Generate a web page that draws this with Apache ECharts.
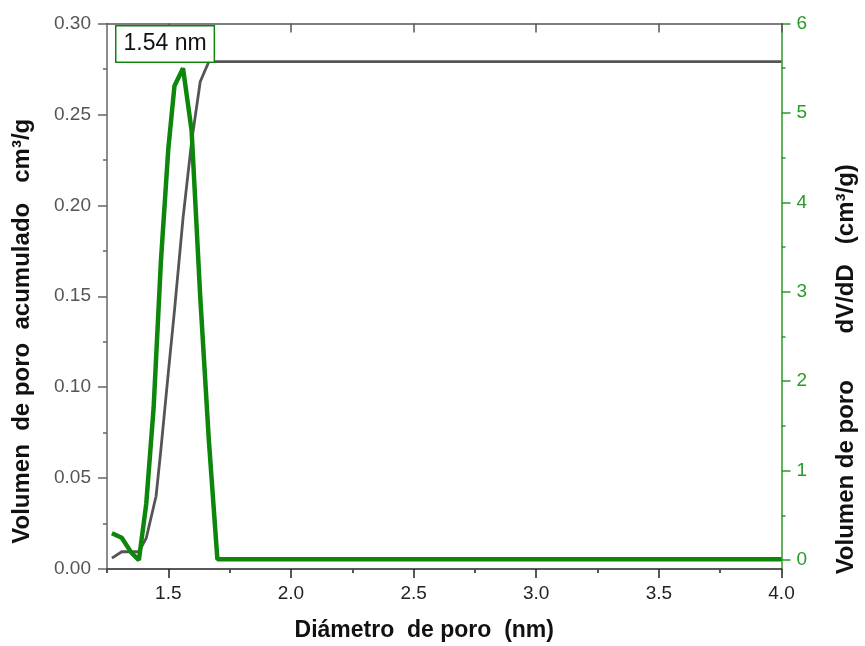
<!DOCTYPE html>
<html><head><meta charset="utf-8">
<script src="https://cdn.jsdelivr.net/npm/echarts@6/dist/echarts.min.js"></script>
<style>html,body{margin:0;padding:0;background:#fff}#c{width:865px;height:646px}</style>
</head><body><div id="c"></div>
<script>
// Cumulative pore volume (left axis, cm3/g)
const greyX = [1.27, 1.31, 1.35, 1.38, 1.41, 1.45, 1.47, 1.50, 1.525, 1.56, 1.595, 1.63, 1.665, 1.70, 4.0];
const greyY = [0.006, 0.0095, 0.0095, 0.0095, 0.017, 0.040, 0.066, 0.108, 0.142, 0.193, 0.235, 0.268, 0.279, 0.279, 0.279];
// dV/dD (right axis)
const greenX = [1.27, 1.31, 1.35, 1.38, 1.41, 1.44, 1.47, 1.50, 1.525, 1.56, 1.595, 1.63, 1.665, 1.70, 4.0];
const greenY = [0.30, 0.25, 0.08, 0.0, 0.63, 1.7, 3.35, 4.6, 5.3, 5.5, 4.8, 2.95, 1.35, 0.01, 0.01];
// ticks
const xMajor = [1.5, 2.0, 2.5, 3.0, 3.5, 4.0];
const xMinor = [1.25, 1.75, 2.25, 2.75, 3.25, 3.75];
const yLMajor = [0, 0.05, 0.10, 0.15, 0.20, 0.25, 0.30];
const yLMinor = [0.025, 0.075, 0.125, 0.175, 0.225, 0.275];
const yRMajor = [0, 1, 2, 3, 4, 5, 6];
const yRMinor = [0.5, 1.5, 2.5, 3.5, 4.5, 5.5];
const peakLabel = '1.54 nm';

const FONT = '"Liberation Sans", Arial, sans-serif';
const GREEN = '#0c870c';
const GREEN_AX = '#2a9a2a';

function tickAxis(base, vals, len, inside, color) {
  return Object.assign({
    axisTick: {show: true, customValues: vals, length: len, inside: !!inside, lineStyle: {width: 1.5, color: color}},
    axisLabel: {show: false}, splitLine: {show: false}
  }, base);
}

const chart = echarts.init(document.getElementById('c'), null, {renderer: 'canvas'});
chart.setOption({
  animation: false,
  backgroundColor: '#fff',
  grid: {left: 107, right: 83.5, top: 23.5, bottom: 77, containLabel: false, outerBoundsMode: 'none'},
  xAxis: [
    {
      type: 'value', position: 'bottom', min: 1.25, max: 4.0,
      axisLine: {show: true, onZero: false, lineStyle: {color: '#222', width: 1.5}},
      axisTick: {show: true, customValues: xMajor, length: 9, lineStyle: {color: '#222', width: 1.5}},
      axisLabel: {show: true, customValues: xMajor, formatter: v => v.toFixed(1), color: '#222', fontSize: 19, fontFamily: FONT, margin: 15},
      splitLine: {show: false},
      name: 'Diámetro  de poro  (nm)', nameLocation: 'middle', nameGap: 50,
      nameTextStyle: {fontSize: 23, fontWeight: 'bold', color: '#111', fontFamily: FONT, padding: [0, 40, 0, 0]}
    },
    tickAxis({type: 'value', position: 'bottom', min: 1.25, max: 4.0, axisLine: {show: false}}, xMinor, 4, false, '#222'),
    tickAxis({type: 'value', position: 'top', min: 1.25, max: 4.0,
      axisLine: {show: true, onZero: false, lineStyle: {color: '#555', width: 1.5}}}, xMajor, 9, true, '#555'),
    tickAxis({type: 'value', position: 'top', min: 1.25, max: 4.0, axisLine: {show: false}}, xMinor, 4, true, '#555')
  ],
  yAxis: [
    {
      type: 'value', position: 'left', min: 0, max: 0.30,
      axisLine: {show: true, onZero: false, lineStyle: {color: '#666', width: 1.5}},
      axisTick: {show: true, customValues: yLMajor, length: 9, lineStyle: {color: '#666', width: 1.5}},
      axisLabel: {show: true, customValues: yLMajor, formatter: v => v.toFixed(2), color: '#555', fontSize: 19, fontFamily: FONT, margin: 16},
      splitLine: {show: false},
      name: 'Volumen  de poro  acumulado   cm³/g', nameLocation: 'middle', nameGap: 73,
      nameTextStyle: {fontSize: 24, fontWeight: 'bold', color: '#111', fontFamily: FONT, padding: [0, 70, 0, 0]}
    },
    tickAxis({type: 'value', position: 'left', min: 0, max: 0.30, axisLine: {show: false}}, yLMinor, 4, false, '#666'),
    {
      type: 'value', position: 'right', min: -0.1, max: 6,
      axisLine: {show: true, onZero: false, lineStyle: {color: GREEN_AX, width: 1.5}},
      axisTick: {show: true, customValues: yRMajor, length: 9, lineStyle: {color: GREEN_AX, width: 1.5}},
      axisLabel: {show: true, customValues: yRMajor, color: GREEN_AX, fontSize: 19, fontFamily: FONT, margin: 15},
      splitLine: {show: false},
      name: 'Volumen de poro       dV/dD   (cm³/g)', nameLocation: 'middle', nameGap: 53,
      nameTextStyle: {fontSize: 24, fontWeight: 'bold', color: '#111', fontFamily: FONT, padding: [0, 146, 0, 0]}
    },
    tickAxis({type: 'value', position: 'right', min: -0.1, max: 6, axisLine: {show: false}}, yRMinor, 4, false, GREEN_AX)
  ],
  series: [
    {
      type: 'line', name: 'acumulado', xAxisIndex: 0, yAxisIndex: 0,
      data: greyX.map((x, i) => [x, greyY[i]]),
      showSymbol: false, lineStyle: {color: '#555', width: 2.8}, z: 2
    },
    {
      type: 'line', name: 'dV/dD', xAxisIndex: 0, yAxisIndex: 2,
      data: greenX.map((x, i) => [x, greenY[i]]),
      showSymbol: false, lineStyle: {color: GREEN, width: 4.5}, z: 3
    }
  ],
  graphic: [{
    type: 'text', left: 115, top: 25, z: 100,
    style: {
      text: peakLabel, font: '23px ' + FONT, fill: '#111',
      backgroundColor: '#fff', borderColor: GREEN, borderWidth: 1.5,
      padding: [6, 7, 6, 7]
    }
  }]
});
</script></body></html>
